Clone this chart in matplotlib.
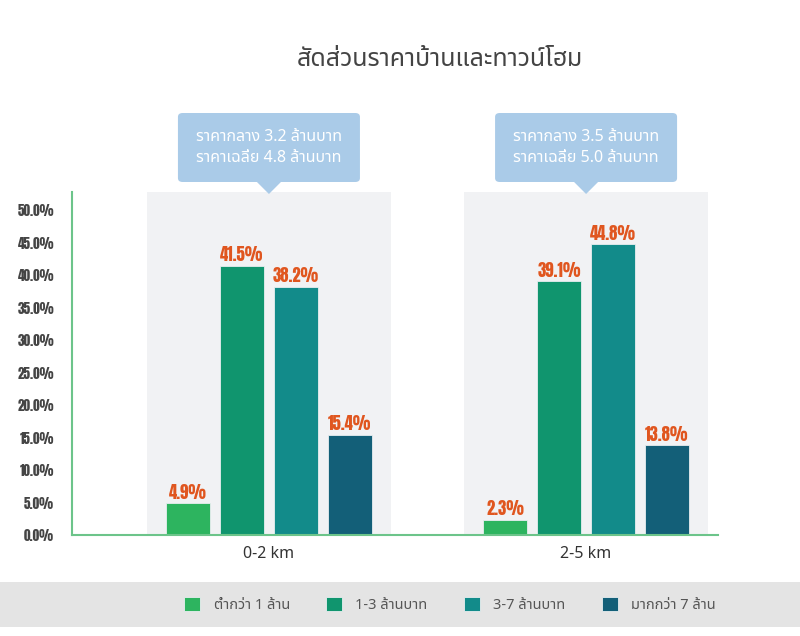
import matplotlib
matplotlib.use("Agg")
import matplotlib.pyplot as plt
from matplotlib.patches import Rectangle, FancyBboxPatch, Polygon
import numpy as np

# data
groups = ["0-2 km", "2-5 km"]
series = ["ต่ำกว่า 1 ล้าน", "1-3 ล้านบาท", "3-7 ล้านบาท", "มากกว่า 7 ล้าน"]
values = [
    [4.9, 41.5, 38.2, 15.4],   # 0-2 km
    [2.3, 39.1, 44.8, 13.8],   # 2-5 km
]
callouts = [
    "ราคากลาง 3.2 ล้านบาท\nราคาเฉลี่ย 4.8 ล้านบาท",
    "ราคากลาง 3.5 ล้านบาท\nราคาเฉลี่ย 5.0 ล้านบาท",
]
yticks = [0, 5, 10, 15, 20, 25, 30, 35, 40, 45, 50]
title = "สัดส่วนราคาบ้านและทาวน์โฮม"

colors = ["#2db45f", "#10956e", "#128b8a", "#135f78"]
label_color = "#e0561f"
thai = ["Noto Sans Thai", "Noto Sans", "DejaVu Sans"]
num_font = ["Anton", "DejaVu Sans"]

fig = plt.figure(figsize=(8, 6.36), dpi=100)
ax = fig.add_axes([0.09, 0.1588, 0.8075, 0.539])

x = np.arange(len(groups))
width = 0.139
step = 0.170
offsets = (np.arange(len(series)) - 1.5) * step

# grey panels behind each group
for xi in x:
    ax.add_patch(Rectangle((xi - 0.385, 0), 0.77, 60, facecolor="#f1f2f4",
                           edgecolor="none", zorder=0))

for i, name in enumerate(series):
    vals = [v[i] for v in values]
    bars = ax.bar(x + offsets[i], vals, width, color=colors[i], zorder=2,
                  edgecolor="#e8eef0", linewidth=0.6, label=name)
    for b, v in zip(bars, vals):
        ax.text(b.get_x() + b.get_width() / 2, v + 0.4, f"{v:.1f}%",
                ha="center", va="bottom", color=label_color, fontsize=12,
                family=num_font, zorder=3)

ax.set_xlim(-0.621, 1.416)
ax.set_ylim(0, 52.8)
ax.set_yticks(yticks)
ax.set_yticklabels([f"{t:.1f}%" for t in yticks], family=num_font,
                   fontsize=9.5, color="#444444")
ax.tick_params(axis="y", length=0, pad=13)
ax.set_xticks(x)
ax.set_xticklabels(groups, family=thai, fontsize=11.5, fontweight="medium",
                   color="#333333")
ax.tick_params(axis="x", length=0, pad=8)
for s in ["top", "right"]:
    ax.spines[s].set_visible(False)
ax.spines["left"].set_color("#6cc48a")
ax.spines["bottom"].set_color("#6cc48a")
ax.spines["left"].set_linewidth(1.5)
ax.spines["bottom"].set_linewidth(1.5)
ax.patch.set_alpha(0)

# callout boxes above each group (figure pixel coords)
for xi, txt in zip(x, callouts):
    cx = (xi + 0.621) / (1.416 + 0.621) * 646 + 72
    x0, x1 = cx - 91, cx + 91
    y0, y1 = 636 - 182, 636 - 113
    box = FancyBboxPatch((x0 / 800, y0 / 636), (x1 - x0) / 800, (y1 - y0) / 636,
                         boxstyle="round,pad=0,rounding_size=0.006",
                         transform=fig.transFigure, facecolor="#aacbe8",
                         edgecolor="none")
    fig.patches.append(box)
    tri = Polygon([((cx - 12) / 800, y0 / 636), ((cx + 12) / 800, y0 / 636),
                   (cx / 800, (y0 - 12) / 636)], closed=True,
                  transform=fig.transFigure, facecolor="#aacbe8", edgecolor="none")
    fig.patches.append(tri)
    fig.text(cx / 800, (y0 + y1) / 2 / 636, txt, ha="center", va="center",
             color="white", fontsize=11.5, family=thai, linespacing=1.45)

fig.text(440 / 800, 1 - 60 / 636, title, ha="center", va="center",
         fontsize=18, color="#444444", family=thai)

# legend band at the bottom
fig.patches.append(Rectangle((0, 1 - 627 / 636), 1, 45 / 636,
                             transform=fig.transFigure, facecolor="#e4e4e4",
                             edgecolor="none"))
leg = fig.legend(loc="center", bbox_to_anchor=(0.5625, 1 - 605 / 636), ncol=4,
                 frameon=False, prop={"family": thai, "size": 10.5},
                 handlelength=1.1, handleheight=1.1, columnspacing=2.5,
                 handletextpad=0.9)
for t in leg.get_texts():
    t.set_color("#555555")

fig.savefig("out.png")
